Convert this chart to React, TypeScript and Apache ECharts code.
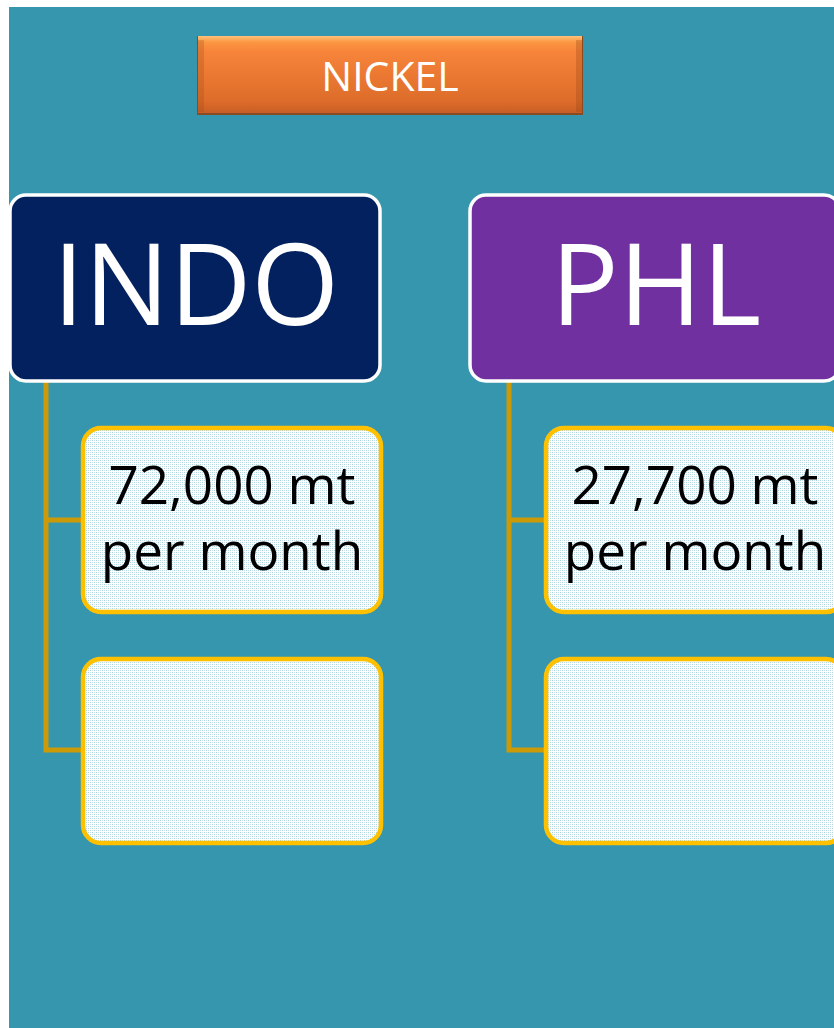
import React, { useEffect, useRef } from "react";
import * as echarts from "echarts";

// Content
const titleText = "NICKEL";
const countries = ["INDO", "PHL"];
const countryColors = ["#03215E", "#7030A0"];
const volumes = ["72,000 mt", "27,700 mt"];
const volumeUnit = "per month";

const FONT = "'Open Sans', 'Noto Sans', sans-serif";

function makeDotPattern(): any {
  try {
    const cv = document.createElement("canvas");
    cv.width = 4;
    cv.height = 4;
    const ctx = cv.getContext("2d");
    if (!ctx) return "#E4F1F4";
    ctx.fillStyle = "#FFFFFF";
    ctx.fillRect(0, 0, 4, 4);
    ctx.fillStyle = "#A9D3DF";
    ctx.fillRect(0, 0, 1, 1);
    ctx.fillRect(2, 2, 1, 1);
    ctx.fillStyle = "#C9E3EB";
    ctx.fillRect(2, 0, 1, 1);
    ctx.fillRect(0, 2, 1, 1);
    return { image: cv.toDataURL(), repeat: "repeat" };
  } catch (e) {
    return "#E4F1F4";
  }
}

export default function App() {
  const ref = useRef<HTMLDivElement>(null);

  useEffect(() => {
    if (!ref.current) return;
    const chart = echarts.init(ref.current, null, { renderer: "svg" });
    const dotFill = makeDotPattern();

    const els: any[] = [];
    // background
    els.push({
      type: "rect",
      shape: { x: 9, y: 7, width: 825, height: 1021 },
      style: { fill: "#3596AE" },
    });

    // title button
    els.push({
      type: "rect",
      shape: { x: 197, y: 36, width: 386, height: 79 },
      style: { fill: "#8A4A22" },
    });
    els.push({
      type: "rect",
      shape: { x: 198, y: 36, width: 384, height: 77 },
      style: {
        fill: new echarts.graphic.LinearGradient(0, 0, 0, 1, [
          { offset: 0, color: "#FFC27A" },
          { offset: 0.08, color: "#FB9642" },
          { offset: 0.2, color: "#F7843A" },
          { offset: 0.85, color: "#DD6C2A" },
          { offset: 1, color: "#C85E25" },
        ]),
      },
    });
    els.push({
      type: "rect",
      shape: { x: 198, y: 40, width: 6, height: 72 },
      style: { fill: "rgba(150,70,20,0.25)" },
    });
    els.push({
      type: "rect",
      shape: { x: 576, y: 40, width: 6, height: 72 },
      style: { fill: "rgba(150,70,20,0.3)" },
    });
    els.push({
      type: "text",
      x: 390,
      y: 75,
      style: {
        text: titleText,
        fill: "#FFFFFF",
        font: `41px ${FONT}`,
        align: "center",
        verticalAlign: "middle",
      },
    });

    const boxX = [10, 470];
    const lineX = [46, 509];
    const childX = [83, 546];

    countries.forEach((c, i) => {
      // connectors
      els.push({
        type: "polyline",
        shape: {
          points: [
            [lineX[i], 380],
            [lineX[i], 750],
            [childX[i], 750],
          ],
        },
        style: { stroke: "#CC9A06", lineWidth: 5, fill: null },
      });
      els.push({
        type: "line",
        shape: { x1: lineX[i], y1: 520, x2: childX[i], y2: 520 },
        style: { stroke: "#CC9A06", lineWidth: 5 },
      });

      // header box
      els.push({
        type: "rect",
        shape: { x: boxX[i], y: 195, width: 370, height: 186, r: 16 },
        style: { fill: countryColors[i], stroke: "#FFFFFF", lineWidth: 3.5 },
      });
      els.push({
        type: "text",
        x: boxX[i] + 186,
        y: 281,
        style: {
          text: c,
          fill: "#FFFFFF",
          font: `113px ${FONT}`,
          align: "center",
          verticalAlign: "middle",
        },
      });

      // child boxes
      [428, 659].forEach((cy) => {
        els.push({
          type: "rect",
          shape: { x: childX[i], y: cy, width: 298, height: 184, r: 18 },
          style: { fill: dotFill, stroke: "#FFC000", lineWidth: 4.5 },
        });
      });
      els.push({
        type: "text",
        x: childX[i] + 149,
        y: 516,
        style: {
          text: volumes[i] + "\n" + volumeUnit,
          fill: "#000000",
          font: `53px ${FONT}`,
          lineHeight: 66,
          align: "center",
          verticalAlign: "middle",
        },
      });
    });

    chart.setOption({
      animation: false,
      graphic: { elements: els },
    });

    return () => chart.dispose();
  }, []);

  return (
    <div
      ref={ref}
      style={{ position: "absolute", left: 0, top: 0, width: 834, height: 1028 }}
    />
  );
}
